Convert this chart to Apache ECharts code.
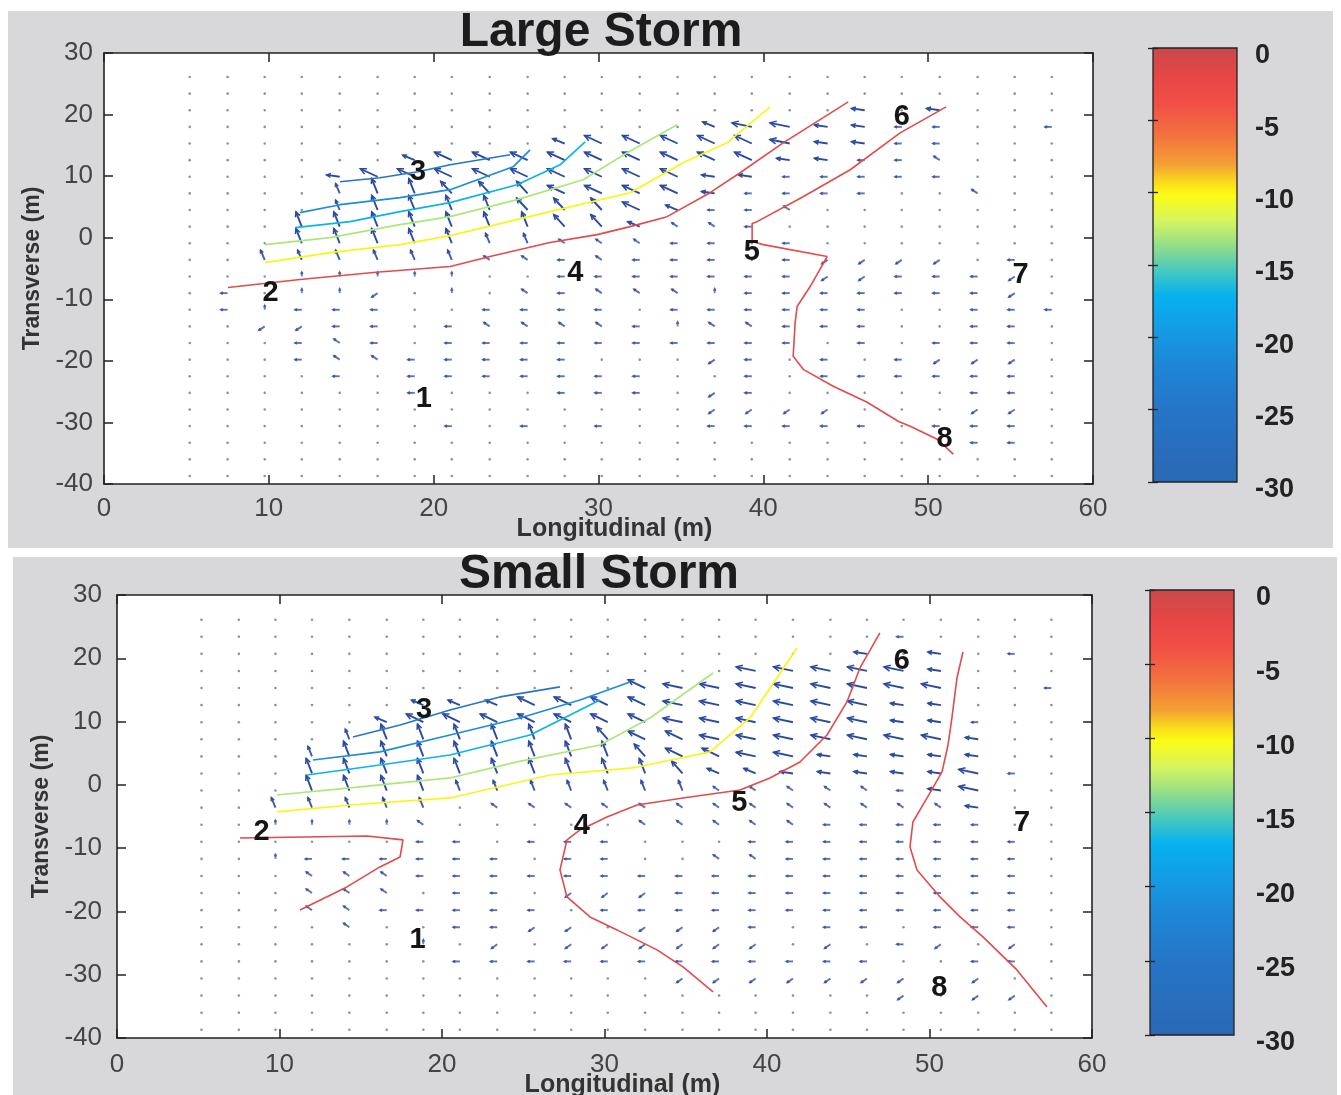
<!DOCTYPE html>
<html><head><meta charset="utf-8">
<script src="https://cdn.jsdelivr.net/npm/echarts@6/dist/echarts.min.js"></script>
<style>html,body{margin:0;padding:0;background:#fff;}#c{width:1341px;height:1095px;}</style>
</head><body><div id="c"></div>
<script>
// ---------- DATA ----------
const xTickMin = 0, xTickMax = 60, xTickStep = 10;
const yTickMin = -40, yTickMax = 30, yTickStep = 10;
const cbMin = -30, cbMax = 0, cbStep = 5;

// quiver grid (Longitudinal columns, Transverse rows)
const gridX = [5.2,7.5,9.75,12.0,14.3,16.6,18.85,21.1,23.4,25.7,27.95,30.2,32.5,34.8,37.05,39.3,41.6,43.9,46.15,48.4,50.7,53.0,55.25,57.5];
const gridY = [26.1,23.4,20.7,18.0,15.3,12.6,9.9,7.2,4.5,1.8,-0.9,-3.6,-6.3,-9.0,-11.7,-14.4,-17.1,-19.8,-22.5,-25.2,-27.9,-30.6,-33.3,-36.0,-38.7];

// vector classes: code -> [u, v] (m)
const vecClass = {
  '.':[0,0], '-':[-0.42,0], '|':[0,0.75], 'k':[-0.36,0.65], 'j':[-0.36,-0.65],
  'w':[-0.8,0.3], 'W':[-1.2,0.65], 'q':[-0.73,0.8], 'Q':[-1.05,1.3],
  'n':[-0.25,1.6], 'N':[-0.36,2.4], 'm':[-0.67,1.95]
};

const largeVecRows = [
"........................",
"........................",
"..................w.w...",
"..............qWWww--..-",
"..........qQQQQQWww--...",
"......qQQQQQQQQQww--k...",
"....wQQQQQQQQQww-----...",
"....nNNmmmQQQQw----..k..",
"....nNNNNmmmQq--k.......",
"...NNNNNNNmmqkk-........",
"...NNNNNnnkkk--.-.......",
"..nnnnnnkk-k---.-jjjj.-.",
"...|||||..-------jj---j.",
".-.||j.|.k-kkk|-------j.",
".-|---..----.------..---",
"..jj--.-kkkk-|kk---..--.",
"...-k-.----------.-.---.",
"...-kk-----...j-.-.-jjj.",
"....-.-------..-.------.",
"......-...---.j-.....--.",
"..............jjjj...jj.",
".......-.-.-..-----.---.",
".....................--.",
"........................",
"........................"
];

const smallVecRows = [
"........................",
"...................-....",
"..................w.w.-.",
"...............WWWWWw...",
"............QWWWWWWWW..-",
"......qqqQQQQWWWWWWww...",
".....qQQQQQQQWWWWWWww-..",
"....nNNNNNNmQQWWWWWWWw..",
"...nNNNNNNNNmQQWWwwwww..",
"...NNNNNNNNNNmqqwwwwwW-.",
"...NNNNnnnnnnnkkkkk-wW..",
"..nnnnn.kkkkkkkkkkkkkw..",
"..||||k.....kkkkk-----..",
"......--.---...--------.",
"..|------.--..kk-------.",
"...kkk-----------------.",
"...kkk.--.jjj----------.",
"...kk-----.------------.",
"....k..--jj.jjj-.--.---.",
"......|.j.jjjjjj.j.-j.j.",
".......------------..--.",
".............jjjjjjj.j..",
"...................j.jj.",
"........................",
"........................"
];

// red lines (Large Storm)
const largeRedA = [[7.52,-8.09],[11.89,-6.79],[16.5,-5.6],[21.0,-4.68],[23.42,-3.06],[27.06,-0.79],[29.92,0.5],[31.92,1.8],[34.16,3.42],[36.77,7.31],[38.59,10.55],[41.2,15.41],[45.15,22.06]];
const largeRedB = [[51.09,21.25],[48.3,17.03],[45.27,11.04],[42.41,6.66],[39.62,2.61],[39.32,2.29],[39.32,-0.63],[39.99,-1.12],[43.87,-3.06],[42.84,-7.93],[42.05,-11.17],[41.93,-13.76],[41.81,-19.27],[42.42,-21.38],[44.24,-24.13],[46.3,-26.73],[48.18,-29.81],[48.91,-30.62],[50.55,-32.72],[51.52,-35.15]];
// depth contours (Large Storm)
const largeContDepths = [-10,-13,-17,-21,-25];
const largeCont10 = [[9.77,-4.04],[13.71,-2.41],[17.96,-1.12],[21.0,0.34],[24.03,2.29],[27.06,4.23],[31.92,7.31],[35.13,12.17],[37.8,15.41],[40.41,21.25]];
const largeCont13 = [[9.77,-1.12],[13.71,0.02],[17.96,2.12],[21.0,3.42],[25.06,6.18],[29.07,9.42],[31.74,13.79],[34.77,18.33]];
const largeCont17 = [[11.59,1.64],[14.93,2.61],[17.96,4.23],[21.0,5.69],[25.06,8.61],[27.67,11.85],[29.19,15.58]];
const largeCont21 = [[11.89,4.07],[14.32,5.36],[17.96,6.5],[21.0,7.8],[24.82,11.52],[25.85,14.28]];
const largeCont25 = [[14.32,9.09],[16.75,9.74],[19.05,10.71],[21.0,11.85],[22.82,12.66],[24.64,13.47]];
const largeLabels = [[19.4,-26.2,'1'],[10.1,-8.9,'2'],[19.05,10.7,'3'],[28.6,-5.7,'4'],[39.3,-2.3,'5'],[48.4,19.6,'6'],[55.6,-6.1,'7'],[51.0,-32.7,'8']];

// red lines (Small Storm)
const smallRedA = [[7.57,-8.39],[15.38,-8.07],[17.6,-8.7],[17.42,-11.39],[16.18,-12.97],[14.15,-16.13],[11.26,-19.76]];
const smallRedB = [[46.95,24.0],[45.72,18.47],[44.92,13.1],[43.69,7.88],[42.03,3.62],[40.18,1.09],[38.34,-0.81],[34.83,-2.07],[32.0,-3.18],[30.15,-5.07],[28.49,-7.12],[27.69,-8.7],[27.26,-13.44],[27.69,-17.71],[29.11,-20.87],[30.77,-22.92],[33.23,-26.08],[34.83,-28.77],[36.68,-32.72]];
const smallRedC = [[52.06,21.0],[51.69,16.89],[51.38,10.57],[51.14,6.3],[50.77,2.04],[49.85,-2.07],[48.98,-5.86],[48.8,-9.81],[49.23,-13.44],[50.65,-17.71],[51.88,-20.87],[53.29,-24.03],[55.38,-29.24],[57.23,-35.09]];
const smallContDepths = [-10,-13,-17,-21,-25];
const smallCont10 = [[9.85,-4.28],[14.34,-3.18],[20.49,-2.07],[26.65,1.56],[31.75,2.67],[36.49,5.2],[38.95,10.57],[41.85,21.63]];
const smallCont13 = [[9.85,-1.6],[14.34,-0.49],[20.49,1.09],[24.62,3.62],[29.72,6.3],[32.8,10.57],[36.68,17.68]];
const smallCont17 = [[11.69,1.56],[16.18,3.14],[20.49,4.72],[25.42,7.88],[27.88,11.04],[29.72,13.41]];
const smallCont21 = [[12.06,3.93],[16.18,5.2],[20.49,7.88],[24.8,10.57],[28.49,13.41],[31.57,16.26]];
const smallCont25 = [[14.52,7.57],[17.42,9.46],[20.49,11.83],[23.57,13.89],[27.26,15.47]];
const smallLabels = [[18.5,-24.5,'1'],[8.9,-7.4,'2'],[18.9,11.8,'3'],[28.6,-6.5,'4'],[38.3,-2.9,'5'],[48.3,19.6,'6'],[55.7,-6.0,'7'],[50.6,-32.1,'8']];

const titles = ['Large Storm','Small Storm'];

// ---------- STYLE ----------
const FONT = "'Liberation Sans', Arial, Helvetica, sans-serif";
const cmap = [[0,'#c84a4a'],[0.06,'#e44646'],[0.13,'#f24e46'],[0.2,'#f2703e'],[0.27,'#f4a034'],[0.31,'#f8dc1c'],[0.34,'#fcfc14'],[0.4,'#d4f462'],[0.46,'#8edc8e'],[0.52,'#3ec6c4'],[0.57,'#06b2f0'],[0.64,'#129ee6'],[0.73,'#1e86d6'],[0.84,'#2674c6'],[1,'#2a68b4']];
function hex2rgb(h){return [parseInt(h.substr(1,2),16),parseInt(h.substr(3,2),16),parseInt(h.substr(5,2),16)];}
function depthColor(d){
  const t = (cbMax - d)/(cbMax - cbMin);
  for (let i=1;i<cmap.length;i++){
    if (t<=cmap[i][0]){
      const a=cmap[i-1], b=cmap[i], f=(t-a[0])/(b[0]-a[0]);
      const ca=hex2rgb(a[1]), cb=hex2rgb(b[1]);
      return 'rgb('+ca.map((c,k)=>Math.round(c+(cb[k]-c)*f)).join(',')+')';
    }
  }
  return cmap[cmap.length-1][1];
}
const VEC_COLOR = '#2a4aa2';

function buildVec(rows){
  const out=[];
  rows.forEach((r,j)=>{ for(let i=0;i<r.length;i++){ const c=vecClass[r[i]]; out.push([gridX[i],gridY[j],c[0],c[1]]); } });
  return out;
}
function renderVec(params, api){
  const x=api.value(0), y=api.value(1), u=api.value(2), v=api.value(3);
  const p0=api.coord([x,y]);
  if(u===0 && v===0){
    return {type:'circle', shape:{cx:p0[0],cy:p0[1],r:1.3}, style:{fill:'#8a94a8'}};
  }
  const p1=api.coord([x+u,y+v]);
  const dx=p1[0]-p0[0], dy=p1[1]-p0[1];
  const L=Math.hypot(dx,dy), ang=Math.atan2(dy,dx);
  const h=Math.max(2.5,L*0.35), a=0.45;
  const h1=[p1[0]-h*Math.cos(ang-a), p1[1]-h*Math.sin(ang-a)];
  const h2=[p1[0]-h*Math.cos(ang+a), p1[1]-h*Math.sin(ang+a)];
  const op=Math.min(1,0.5+L/26);
  return {type:'group', children:[
    {type:'line', shape:{x1:p0[0],y1:p0[1],x2:p1[0],y2:p1[1]}, style:{stroke:VEC_COLOR,lineWidth:1.9,opacity:op}},
    {type:'polyline', shape:{points:[h1,p1,h2]}, style:{stroke:VEC_COLOR,lineWidth:1.5,fill:'none',opacity:op}}
  ]};
}
function labelRenderer(arr){
  return function(params, api){
    const p=api.coord([api.value(0),api.value(1)]);
    return {type:'text', x:p[0], y:p[1], style:{text:arr[params.dataIndex][2], fontSize:29, fontWeight:'bold', fill:'#151515', align:'center', verticalAlign:'middle', fontFamily:FONT}};
  };
}
function cbRenderer(params, api){
  const a=api.coord([0,cbMax]), b=api.coord([1,cbMin]);
  const stops=cmap.map(s=>({offset:s[0],color:s[1]}));
  return {type:'rect', shape:{x:a[0],y:a[1],width:b[0]-a[0],height:b[1]-a[1]},
    style:{fill:new echarts.graphic.LinearGradient(0,0,0,1,stops), stroke:'#222', lineWidth:1.3}};
}

const axLine = {show:true, onZero:false, lineStyle:{color:'#222', width:1.6}};
const axTick = {show:true, inside:true, length:9, lineStyle:{color:'#222', width:1.5}};
function plotAxes(gi, xMargin, yMargin, xGap, yGap, xNameShift){
  const xs=[
    {gridIndex:gi, type:'value', min:xTickMin, max:xTickMax, interval:xTickStep, axisLine:axLine, axisTick:axTick, splitLine:{show:false},
     axisLabel:{fontSize:26, color:'#444', margin:xMargin, fontFamily:FONT},
     name:'Longitudinal (m)', nameLocation:'middle', nameGap:xGap, nameMoveOverlap:false,
     nameTextStyle:{fontSize:25, fontWeight:'bold', color:'#333', fontFamily:FONT, padding:[0,0,0,xNameShift]}},
    {gridIndex:gi, type:'value', position:'top', min:xTickMin, max:xTickMax, interval:xTickStep, axisLine:axLine, axisTick:axTick, splitLine:{show:false}, axisLabel:{show:false}}
  ];
  const ys=[
    {gridIndex:gi, type:'value', min:yTickMin, max:yTickMax, interval:yTickStep, axisLine:axLine, axisTick:axTick, splitLine:{show:false},
     axisLabel:{fontSize:26, color:'#444', margin:yMargin, fontFamily:FONT},
     name:'Transverse (m)', nameLocation:'middle', nameGap:yGap, nameTextStyle:{fontSize:23, fontWeight:'bold', color:'#333', fontFamily:FONT}},
    {gridIndex:gi, type:'value', position:'right', min:yTickMin, max:yTickMax, interval:yTickStep, axisLine:axLine, axisTick:axTick, splitLine:{show:false}, axisLabel:{show:false}}
  ];
  return [xs, ys];
}
function cbAxes(gi, margin){
  const xs=[{gridIndex:gi, type:'value', min:0, max:1, show:false}];
  const ys=[
    {gridIndex:gi, type:'value', position:'right', min:cbMin, max:cbMax, interval:cbStep,
     axisLine:{show:false}, axisTick:{show:true, inside:true, length:5, lineStyle:{color:'#222', width:1.3}}, splitLine:{show:false},
     axisLabel:{fontSize:27, fontWeight:'bold', color:'#222', margin:margin, fontFamily:FONT, showMinLabel:true, showMaxLabel:true, verticalAlign:'top', lineHeight:16}},
    {gridIndex:gi, type:'value', position:'left', min:cbMin, max:cbMax, interval:cbStep,
     axisLine:{show:false}, axisTick:{show:true, inside:true, length:5, lineStyle:{color:'#222', width:1.3}}, splitLine:{show:false}, axisLabel:{show:false}}
  ];
  return [xs, ys];
}

const [px0, py0] = plotAxes(0, 12, 11, 33, 58, 32);
const [cx1, cy1] = cbAxes(1, 18);
const [px2, py2] = plotAxes(2, 14, 15, 35, 60, 36);
const [cx3, cy3] = cbAxes(3, 22);

function panelSeries(xi, yi, vecRows, reds, conts, depths, labels){
  const s=[];
  s.push({type:'custom', xAxisIndex:xi, yAxisIndex:yi, renderItem:renderVec, data:buildVec(vecRows), silent:true, z:2});
  conts.forEach((c,k)=>s.push({type:'line', xAxisIndex:xi, yAxisIndex:yi, data:c, showSymbol:false, symbol:'none', silent:true, z:3,
    lineStyle:{color:depthColor(depths[k]), width:1.7}}));
  reds.forEach(r=>s.push({type:'line', xAxisIndex:xi, yAxisIndex:yi, data:r, showSymbol:false, symbol:'none', silent:true, z:4,
    lineStyle:{color:'#e34a4a', width:1.6}}));
  s.push({type:'custom', xAxisIndex:xi, yAxisIndex:yi, renderItem:labelRenderer(labels), data:labels.map(l=>[l[0],l[1]]), silent:true, z:5});
  return s;
}

const series = [].concat(
  panelSeries(0, 0, largeVecRows, [largeRedA, largeRedB], [largeCont10,largeCont13,largeCont17,largeCont21,largeCont25], largeContDepths, largeLabels),
  panelSeries(3, 4, smallVecRows, [smallRedA, smallRedB, smallRedC], [smallCont10,smallCont13,smallCont17,smallCont21,smallCont25], smallContDepths, smallLabels),
  [{type:'custom', xAxisIndex:2, yAxisIndex:2, renderItem:cbRenderer, data:[[0,cbMin]], silent:true, z:-1},
   {type:'custom', xAxisIndex:5, yAxisIndex:6, renderItem:cbRenderer, data:[[0,cbMin]], silent:true, z:-1}]
);

const option = {
  animation:false,
  backgroundColor:'#ffffff',
  graphic:[
    {type:'rect', z:-100, silent:true, shape:{x:8,y:11,width:1325,height:537}, style:{fill:'#d8d8da'}},
    {type:'rect', z:-100, silent:true, shape:{x:13,y:557,width:1324,height:538}, style:{fill:'#d8d8da'}}
  ],
  title:[
    {text:titles[0], left:601, top:9, textAlign:'center', padding:0, textStyle:{fontSize:48, fontWeight:'bold', color:'#1c1c1c', fontFamily:FONT}},
    {text:titles[1], left:599, top:551, textAlign:'center', padding:0, textStyle:{fontSize:48, fontWeight:'bold', color:'#1c1c1c', fontFamily:FONT}}
  ],
  grid:[
    {left:104, top:53, width:989, height:431, show:true, backgroundColor:'#ffffff', borderWidth:0, outerBoundsMode:'none', containLabel:false},
    {left:1153, top:48, width:84, height:434, outerBoundsMode:'none', containLabel:false},
    {left:117, top:595, width:975, height:443, show:true, backgroundColor:'#ffffff', borderWidth:0, outerBoundsMode:'none', containLabel:false},
    {left:1150, top:590, width:84, height:445, outerBoundsMode:'none', containLabel:false}
  ],
  xAxis:[].concat(px0, cx1, px2, cx3),
  yAxis:[].concat(py0, cy1, py2, cy3),
  series:series
};
const chart = echarts.init(document.getElementById('c'), null, {renderer:'canvas'});
chart.setOption(option);
</script></body></html>
